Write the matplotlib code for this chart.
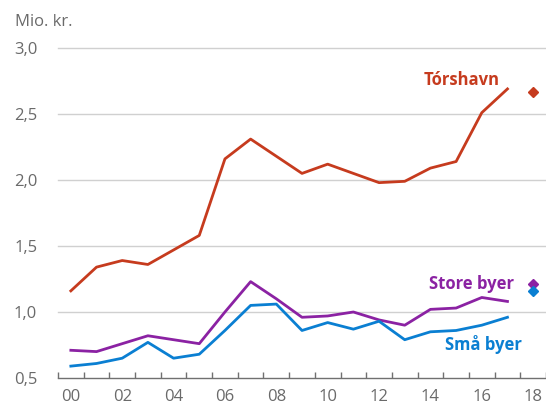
import matplotlib
matplotlib.use("Agg")
import matplotlib.pyplot as plt
import numpy as np

# data (Mio. kr.)
years = list(range(2000, 2018))
torshavn = [1.16, 1.34, 1.39, 1.36, 1.47, 1.58, 2.16, 2.31, 2.18, 2.05, 2.12, 2.05, 1.98, 1.99,
            2.09, 2.14, 2.51, 2.69]
store_byer = [0.71, 0.70, 0.76, 0.82, 0.79, 0.76, 1.00, 1.23, 1.10, 0.96, 0.97, 1.00, 0.94, 0.90,
              1.02, 1.03, 1.11, 1.08]
smaa_byer = [0.59, 0.61, 0.65, 0.77, 0.65, 0.68, 0.86, 1.05, 1.06, 0.86, 0.92, 0.87, 0.93, 0.79,
             0.85, 0.86, 0.90, 0.96]
# 2018-punkter (diamanter)
year_2018 = 2018
torshavn_2018 = 2.67
store_2018 = 1.21
smaa_2018 = 1.16

tick_labels = ["00", "02", "04", "06", "08", "10", "12", "14", "16", "18"]

RED = "#C63B1E"
PURPLE = "#8B22A3"
BLUE = "#0A7FD2"
GREY = "#6A6A6A"

plt.rcParams['font.family'] = ['Open Sans', 'DejaVu Sans']

fig = plt.figure(figsize=(5.46, 4.07), dpi=100)
ax = fig.add_axes([58 / 546, 1 - 378 / 407, 1 - 58 / 546, (378 - 48) / 407])

x = np.arange(len(years))
x18 = year_2018 - years[0]

ax.plot(x, torshavn, color=RED, lw=2.0, zorder=3)
ax.plot(x, store_byer, color=PURPLE, lw=2.0, zorder=3)
ax.plot(x, smaa_byer, color=BLUE, lw=2.0, zorder=3)
ax.plot([x18], [torshavn_2018], marker="D", ms=5.5, color=RED, ls="none", zorder=4)
ax.plot([x18], [store_2018], marker="D", ms=5.5, color=PURPLE, ls="none", zorder=4)
ax.plot([x18], [smaa_2018], marker="D", ms=5.5, color=BLUE, ls="none", zorder=4)

ax.text(15.2, 2.76, "Tórshavn", color=RED, fontsize=12, fontweight="bold", ha="center", va="center")
ax.text(15.6, 1.21, "Store byer", color=PURPLE, fontsize=12, fontweight="bold", ha="center", va="center")
ax.text(16.05, 0.75, "Små byer", color=BLUE, fontsize=12, fontweight="bold", ha="center", va="center")

ax.set_xlim(-0.5, 18.5)
ax.set_ylim(0.5, 3.0)

ax.set_yticks([0.5, 1.0, 1.5, 2.0, 2.5, 3.0])
ax.set_yticklabels(["0,5", "1,0", "1,5", "2,0", "2,5", "3,0"])
ax.set_xticks(np.arange(0, 19, 2))
ax.set_xticklabels(tick_labels)
ax.set_xticks(np.arange(-0.5, 19, 1), minor=True)

for yv in [1.0, 1.5, 2.0, 2.5, 3.0]:
    ax.axhline(yv, color="#D0D0D0", lw=1.0, zorder=1, clip_on=False)

for s in ["top", "right", "left"]:
    ax.spines[s].set_visible(False)
ax.spines["bottom"].set_color("#707070")
ax.spines["bottom"].set_linewidth(1.0)

ax.tick_params(axis="x", which="major", length=0, pad=8, labelsize=12, labelcolor=GREY)
ax.tick_params(axis="x", which="minor", direction="in", length=4, width=1.0, color="#707070")
ax.tick_params(axis="y", length=0, pad=15, labelsize=12, labelcolor=GREY)

fig.text(15 / 546, 1 - 22 / 407, "Mio. kr.", fontsize=12, color=GREY, ha="left", va="center")

fig.savefig("out.png", dpi=100)
